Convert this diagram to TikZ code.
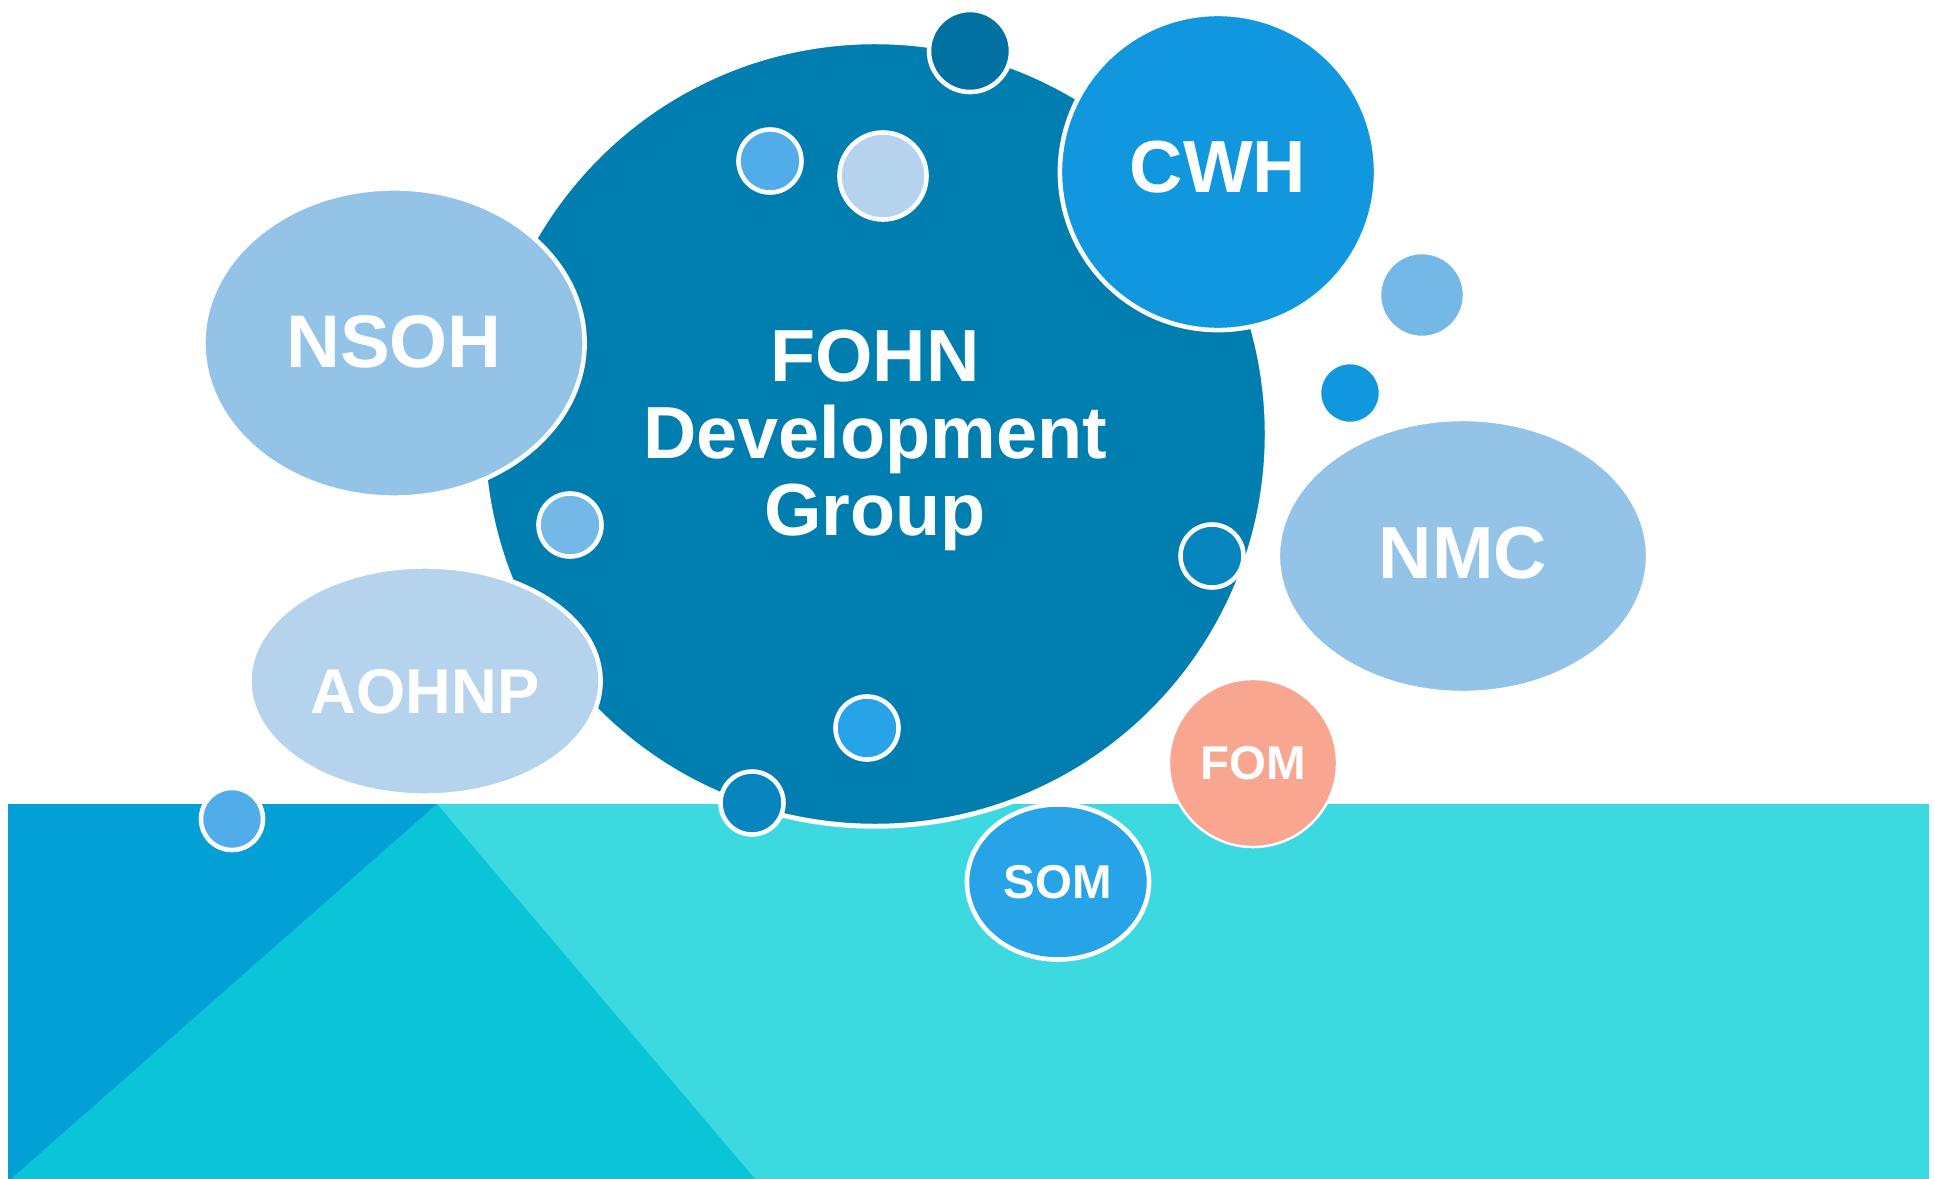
\documentclass[tikz,border=0pt]{standalone}
\usepackage{fontspec}
\setmainfont{Liberation Sans}
\usepackage{tikz}
\usetikzlibrary{shapes.geometric}
\usepackage{xcolor}

\definecolor{fohnblue}{HTML}{007EAF}
\definecolor{cwhblue}{HTML}{1097DD}
\definecolor{paleblue}{HTML}{94C3E8}
\definecolor{mistblue}{HTML}{B5D3EC}
\definecolor{skyblue}{HTML}{27A3E8}
\definecolor{salmon}{HTML}{F8A68F}
\definecolor{deepblue}{HTML}{0071A0}
\definecolor{midblue}{HTML}{0785BE}
\definecolor{lightdot}{HTML}{74B8E8}
\definecolor{dotblue}{HTML}{50ADEA}
\definecolor{sealeft}{HTML}{03A0D6}
\definecolor{seamid}{HTML}{0AC5D8}
\definecolor{searight}{HTML}{3DD9E0}

\begin{document}
\begin{tikzpicture}[x=0.01cm, y=-0.01cm, % one unit is one pixel of the page, y downwards
  blob/.style={circle, fill=#1, draw=white, line width=1.3pt, inner sep=0pt},
  oval/.style={ellipse, fill=#1, draw=white, line width=1.3pt, inner sep=0pt,
    text=white, text depth=0pt, font=\bfseries\fontsize{21}{22}\selectfont}]

\useasboundingbox (0,0) rectangle (1935,1179);

% Sea at the bottom
\fill[searight] (8,804) rectangle (1929,1179);
\fill[sealeft] (8,804) rectangle (437,1179);
\fill[seamid] (11,1179) -- (437,804) -- (755,1179) -- cycle;

% The big circle of the group
\node[blob=fohnblue, line width=1.4pt, minimum size=7.84cm, text=white, align=center,
  text height=2.18cm, text depth=0.16cm,
  font=\bfseries\fontsize{21}{21.9}\selectfont] (fohn) at (875,434) {FOHN\\Development\\Group};

% Dots on the big circle
\foreach \n/\x/\y/\d/\c in {2/770/161/0.63/dotblue, 3/883/176/0.87/mistblue,
  4/570/525/0.63/lightdot, 6/867/728/0.63/skyblue, 1/970/51/0.82/deepblue} {
  \node[blob=\c, minimum size=\d cm] (dot\n) at (\x,\y) {};
}

% Member groups round the big circle
\node[blob=cwhblue, minimum size=3.16cm, text=white, text height=0.41cm, text depth=0pt,
  font=\bfseries\fontsize{21}{22}\selectfont] (cwh) at (1218,172) {CWH};
\node[oval=paleblue, minimum width=3.81cm, minimum height=3.09cm, text height=0.48cm,
  font=\bfseries\fontsize{21.2}{22}\selectfont] (nsoh) at (394,343) {NSOH};
\node[oval=mistblue, minimum width=3.51cm, minimum height=2.29cm, text height=0.65cm,
  font=\bfseries\fontsize{18}{20}\selectfont] (aohnp) at (425,681) {AOHNP};

% Dots on the edge and outside
\foreach \n/\x/\y/\d/\c in {5/1212/556/0.63/midblue, 7/752/803/0.63/midblue,
  8/232/819/0.62/dotblue, 9/1422/295/0.86/lightdot, 10/1350/393/0.62/cwhblue} {
  \node[blob=\c, minimum size=\d cm] (dot\n) at (\x,\y) {};
}

\node[oval=paleblue, minimum width=3.70cm, minimum height=2.74cm, text height=0.44cm] (nmc) at (1463,556) {NMC};
\node[blob=salmon, line width=0.7pt, minimum size=1.68cm, text=white,
  font=\bfseries\fontsize{13.5}{16}\selectfont] (fom) at (1253,763) {FOM};
\node[oval=skyblue, minimum width=1.82cm, minimum height=1.55cm,
  font=\bfseries\fontsize{13.5}{16}\selectfont] (som) at (1058,882) {SOM};
\end{tikzpicture}
\end{document}
